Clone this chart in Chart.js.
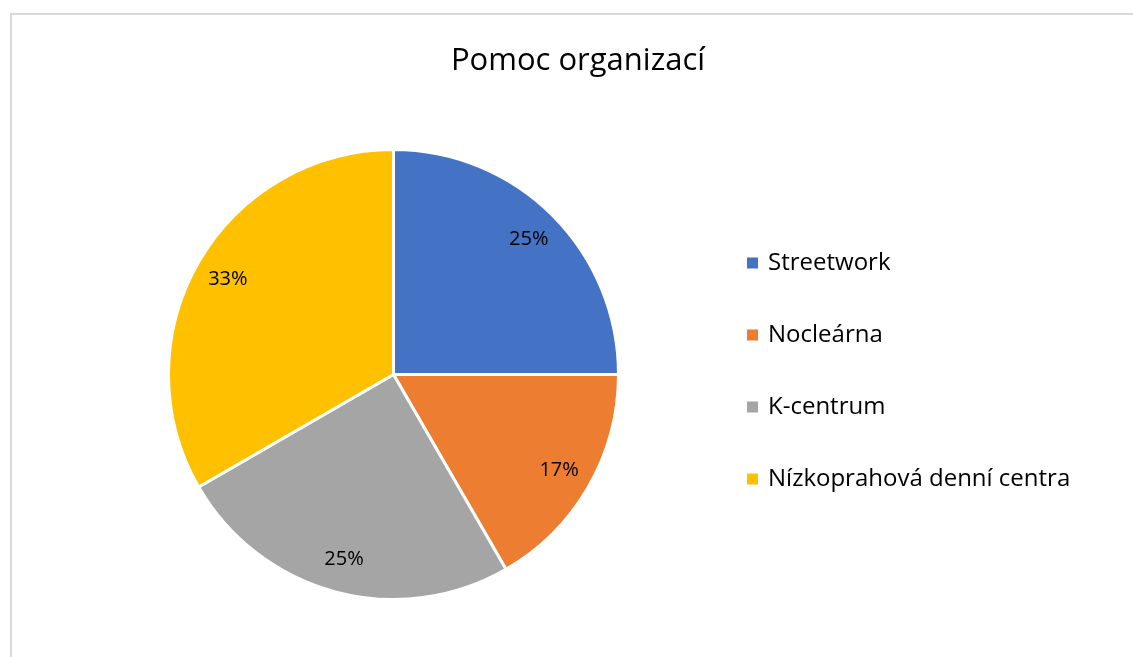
<!DOCTYPE html>
<html>
<head>
<meta charset="utf-8">
<script src="https://cdn.jsdelivr.net/npm/chart.js@4.4.0/dist/chart.umd.min.js"></script>
<style>
  html, body { margin: 0; padding: 0; background: #fff; overflow: hidden; }
  #chart { display: block; }
</style>
</head>
<body>
<canvas id="chart" width="1133" height="657"></canvas>
<script>
// Chart data
const title = 'Pomoc organizací';
const categories = ['Streetwork', 'Nocleárna', 'K-centrum', 'Nízkoprahová denní centra'];
const values = [3, 2, 3, 4];
const percentLabels = ['25%', '17%', '25%', '33%'];
const colors = ['#4472C4', '#ED7D31', '#A5A5A5', '#FFC000'];

const fontFamily = '"Open Sans", "Noto Sans", sans-serif';

// Chart frame (only top and left edges are visible in the crop)
const frame = {
    id: 'frame',
    beforeDraw(chart) {
        const ctx = chart.ctx;
        ctx.save();
        ctx.fillStyle = '#d9d9d9';
        ctx.fillRect(10, 13, chart.width - 10, 2);
        ctx.fillRect(10, 13, 2, chart.height - 13);
        ctx.restore();
    }
};

// Title, legend and slice labels drawn on top of the pie
const decorations = {
    id: 'decorations',
    afterDraw(chart) {
        const ctx = chart.ctx;
        ctx.save();
        ctx.fillStyle = '#000';

        // title
        ctx.font = '31px ' + fontFamily;
        ctx.textAlign = 'center';
        ctx.textBaseline = 'middle';
        ctx.fillText(title, 578, 61);

        // slice labels
        ctx.font = '20px ' + fontFamily;
        const meta = chart.getDatasetMeta(0);
        meta.data.forEach((arc, i) => {
            const p = arc.getProps(['x', 'y', 'startAngle', 'endAngle', 'outerRadius']);
            const mid = (p.startAngle + p.endAngle) / 2;
            const r = p.outerRadius * 0.85;
            ctx.fillText(percentLabels[i], p.x + Math.cos(mid) * r, p.y + Math.sin(mid) * r);
        });

        // legend
        ctx.font = '24px ' + fontFamily;
        ctx.textAlign = 'left';
        categories.forEach((name, i) => {
            const y = 263 + i * 72;
            ctx.fillStyle = colors[i];
            ctx.fillRect(747, y - 5.5, 11, 11);
            ctx.fillStyle = '#000';
            ctx.fillText(name, 768, y);
        });
        ctx.restore();
    }
};

new Chart(document.getElementById('chart'), {
    type: 'pie',
    data: {
        labels: categories,
        datasets: [{
            data: values,
            backgroundColor: colors,
            borderColor: '#ffffff',
            borderWidth: 3
        }]
    },
    options: {
        responsive: false,
        animation: false,
        layout: {
            padding: { left: 167, right: 513, top: 148, bottom: 56 }
        },
        plugins: {
            legend: { display: false },
            title: { display: false },
            tooltip: { enabled: false }
        }
    },
    plugins: [frame, decorations]
});
</script>
</body>
</html>
